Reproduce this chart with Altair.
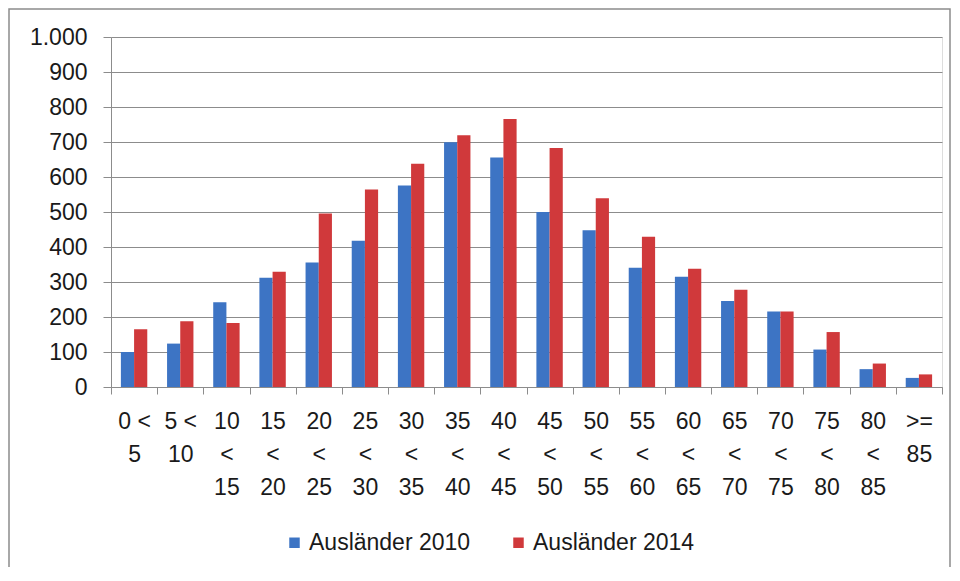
import altair as alt
import pandas as pd

categories = ["0 < 5", "5 < 10", "10 < 15", "15 < 20", "20 < 25", "25 < 30",
              "30 < 35", "35 < 40", "40 < 45", "45 < 50", "50 < 55", "55 < 60",
              "60 < 65", "65 < 70", "70 < 75", "75 < 80", "80 < 85", ">= 85"]
auslaender_2010 = [100, 124, 242, 312, 356, 418, 576, 699, 656, 500, 448, 341,
                   315, 246, 216, 107, 51, 26]
auslaender_2014 = [165, 188, 183, 329, 496, 564, 638, 719, 766, 683, 539, 429,
                   338, 278, 216, 157, 67, 36]
series = ["Ausländer 2010", "Ausländer 2014"]
y_ticks = [0, 100, 200, 300, 400, 500, 600, 700, 800, 900, 1000]
colors = ["#3d74c4", "#d0393b"]

rows = []
for i, c in enumerate(categories):
    rows.append({"Altersgruppe": c, "Serie": series[0], "Wert": auslaender_2010[i]})
    rows.append({"Altersgruppe": c, "Serie": series[1], "Wert": auslaender_2014[i]})
df = pd.DataFrame(rows)

FONT = "Liberation Sans"
GRAY = "#8c8c8c"

x_label_expr = ("datum.label == '0 < 5' ? ['0 <', '5'] : "
                "datum.label == '5 < 10' ? ['5 <', '10'] : split(datum.label, ' ')")

bars = alt.Chart(df).mark_bar().encode(
    x=alt.X("Altersgruppe:N", sort=categories,
            scale=alt.Scale(paddingInner=0, paddingOuter=0),
            axis=alt.Axis(title=None, labelAngle=0, tickBand="extent", tickSize=7,
                          domainColor=GRAY, tickColor=GRAY, labelColor="#1a1a1a",
                          labelFont=FONT, labelFontSize=23, labelLineHeight=33,
                          labelPadding=16, labelExpr=x_label_expr)),
    xOffset=alt.XOffset("Serie:N", sort=series,
                        scale=alt.Scale(paddingInner=0, paddingOuter=0.75)),
    y=alt.Y("Wert:Q", scale=alt.Scale(domain=[0, 1000], nice=False),
            axis=alt.Axis(title=None, values=y_ticks, grid=True, gridColor=GRAY,
                          domainColor=GRAY, tickColor=GRAY, tickSize=8,
                          labelPadding=16, labelColor="#1a1a1a",
                          labelFont=FONT, labelFontSize=23,
                          labelExpr="replace(datum.label, ',', '.')")),
    color=alt.Color("Serie:N", scale=alt.Scale(domain=series, range=colors),
                    legend=alt.Legend(title=None, orient="none", legendX=172,
                                      legendY=494, direction="horizontal",
                                      symbolType="square", symbolSize=110,
                                      symbolStrokeWidth=0, labelFont=FONT,
                                      labelFontSize=23, labelColor="#1a1a1a",
                                      labelLimit=0,
                                      columnPadding=36, labelOffset=3)),
)

border = alt.Chart(alt.Data(values=[{}])).mark_rect(
    fill=None, stroke="#8c8c8c", strokeWidth=1.5, clip=False
).encode(
    x=alt.value(-102), x2=alt.value(839), y=alt.value(-28), y2=alt.value(560)
)

chart = alt.layer(border, bars).properties(
    width=831, height=350,
    autosize=alt.AutoSizeParams(type="none"),
    padding={"left": 103, "top": 29, "right": 10, "bottom": 180},
).configure_view(stroke=None).configure(background="white")

chart.save("out.html", embed_options={"renderer": "svg", "actions": False})
